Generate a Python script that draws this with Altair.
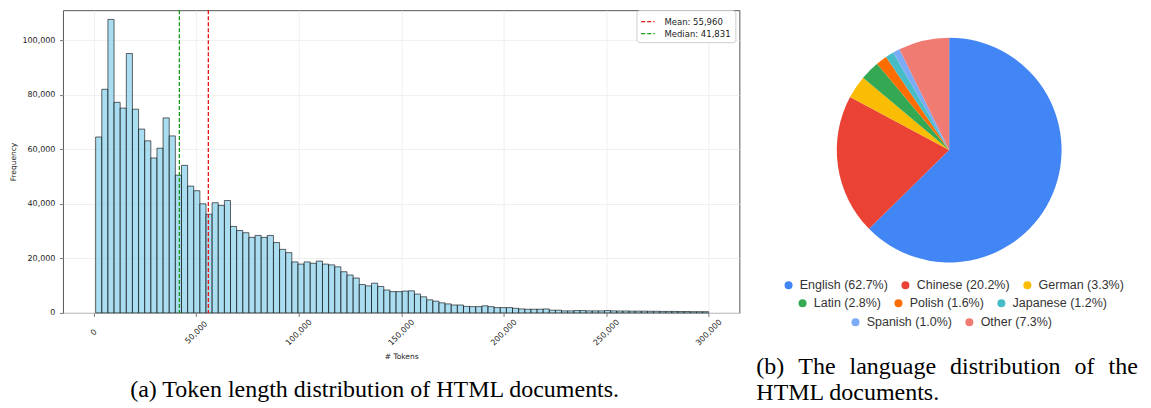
import altair as alt
import numpy as np
import pandas as pd

# ---------------- data: token histogram ----------------
bin_first_edge = 1000
bin_last_edge = 300000
counts = [
    64500, 82000, 107600, 77200, 75100, 95100, 74700, 67400, 63100, 56800,
    60400, 71500, 64900, 50500, 54100, 46500, 44800, 40000, 36200, 40400,
    39400, 41200, 31700, 30200, 29400, 27700, 28400, 27700, 28400, 25800,
    23300, 22100, 18700, 17900, 18700, 18200, 19000, 17900, 17600, 16900,
    15100, 13900, 12800, 10400, 9900, 10900, 9700, 8400, 7800, 7800,
    8000, 8100, 6900, 5900, 4800, 4300, 3700, 3300, 2900, 2900,
    2400, 2300, 2300, 2600, 2300, 1950, 1950, 1950, 1700, 1450,
    1350, 1350, 1350, 1450, 1000, 1000, 750, 750, 850, 850,
    750, 750, 750, 850, 750, 700, 700, 650, 650, 650,
    600, 600, 550, 550, 550, 500, 500, 450, 450, 450,
]
mean_tokens = 55960
median_tokens = 41831
x_ticks = [0, 50000, 100000, 150000, 200000, 250000, 300000]
y_ticks = [0, 20000, 40000, 60000, 80000, 100000]

# ---------------- data: languages ----------------
languages = ["English", "Chinese", "German", "Latin", "Polish", "Japanese", "Spanish", "Other"]
shares = [62.7, 20.2, 3.3, 2.8, 1.6, 1.2, 1.0, 7.3]
colors = ["#4285F4", "#EA4335", "#FBBC04", "#34A853", "#FF6D01", "#46BDC6", "#7BAAF7", "#F07B72"]
legend_row = [0, 0, 0, 1, 1, 1, 2, 2]

caption_a = "(a) Token length distribution of HTML documents."
gap = "\u2002\u200a"
caption_b = [gap.join(["(b)", "The", "language", "distribution", "of", "the"]), "HTML documents."]

# ---------------- histogram ----------------
edges = np.linspace(bin_first_edge, bin_last_edge, len(counts) + 1)
hist_df = pd.DataFrame({"start": edges[:-1], "end": edges[1:], "count": counts})

bars = alt.Chart(hist_df).mark_rect(
    fill="#87CEEB", fillOpacity=0.7, stroke="black", strokeOpacity=0.75, strokeWidth=0.8
).encode(
    x=alt.X(
        "start:Q",
        scale=alt.Scale(domain=[-14950, 314950], nice=False, zero=False),
        axis=alt.Axis(
            values=x_ticks, format=",d", labelAngle=-45, labelAlign="center",
            labelBaseline="middle", labelPadding=16, title="# Tokens", titlePadding=6,
        ),
    ),
    x2="end:Q",
    y=alt.Y(
        "count:Q",
        scale=alt.Scale(domain=[0, 111000], nice=False),
        axis=alt.Axis(values=y_ticks, format=",d", title="Frequency", labelPadding=4.5, titlePadding=4),
    ),
    y2=alt.datum(0),
)

stat_labels = [f"Mean: {mean_tokens:,}", f"Median: {median_tokens:,}"]
stats_df = pd.DataFrame({"value": [mean_tokens, median_tokens], "label": stat_labels})
rules = alt.Chart(stats_df).mark_rule(strokeDash=[4, 2], strokeWidth=1.3).encode(
    x=alt.X("value:Q", title="# Tokens"),
    color=alt.Color(
        "label:N",
        scale=alt.Scale(domain=stat_labels, range=["#ee1111", "#1a9a1a"]),
        legend=alt.Legend(
            title=None, orient="none", legendX=574, legendY=0, fillColor="white", strokeColor="#cccccc",
            cornerRadius=3, padding=4, symbolType="stroke", symbolSize=180, symbolStrokeWidth=1.2,
            symbolDash=[4, 2], labelFont="DejaVu Sans", labelFontSize=8.5, labelColor="#222",
            rowPadding=0, labelOffset=9,
        ),
    ),
)

hist = alt.layer(bars, rules).properties(
    width=677,
    height=303,
    view=alt.ViewBackground(stroke="#555555", strokeWidth=1),
    title=alt.TitleParams(
        text=caption_a, orient="bottom", anchor="middle", frame="bounds",
        font="Liberation Serif", fontSize=24, fontWeight="normal", color="black",
        baseline="alphabetic", offset=37,
    ),
)

# ---------------- pie ----------------
pie_df = pd.DataFrame({
    "language": languages,
    "share": shares,
    "order": list(range(len(languages))),
    "row": legend_row,
})
pie_df["label"] = [f"{l} ({s:.1f}%)" for l, s in zip(languages, shares)]
total = float(sum(shares))

base = alt.Chart(pie_df).transform_window(
    cum="sum(share)", sort=[alt.SortField("order")], frame=[None, 0]
).transform_calculate(start="datum.cum - datum.share")

legend_x = [26, 40, 93]
legend_y = [269, 287, 306]
arcs = []
for r in range(3):
    idx = [i for i, rr in enumerate(legend_row) if rr == r]
    arcs.append(
        base.transform_filter(alt.datum.row == r).mark_arc(radius=112.5, strokeWidth=0).encode(
            theta=alt.Theta("start:Q", scale=alt.Scale(domain=[0, total])),
            theta2="cum:Q",
            color=alt.Color(
                "label:N",
                scale=alt.Scale(domain=[pie_df["label"][i] for i in idx], range=[colors[i] for i in idx]),
                legend=alt.Legend(
                    title=None, orient="none", legendX=legend_x[r], legendY=legend_y[r],
                    direction="horizontal", columns=len(idx), symbolType="circle", symbolSize=64,
                    symbolStrokeWidth=0, labelFont="Liberation Sans", labelFontSize=12.5,
                    labelColor="#333333", columnPadding=11, labelOffset=5, padding=0,
                ),
            ),
        )
    )

pie = alt.layer(*arcs).resolve_scale(color="independent").resolve_legend(color="independent").properties(
    width=386,
    height=280,
    view=alt.ViewBackground(stroke="transparent"),
    title=alt.TitleParams(
        text=caption_b, orient="bottom", anchor="start", frame="group",
        font="Liberation Serif", fontSize=24, fontWeight="normal", color="black",
        baseline="alphabetic", offset=45, lineHeight=26,
    ),
)

chart = alt.hconcat(hist, pie, spacing=15).properties(
    padding={"left": 1, "top": 0, "right": 0, "bottom": 0}
).configure_axis(
    labelFont="DejaVu Sans", labelFontSize=8, labelColor="#222222",
    titleFont="DejaVu Sans", titleFontSize=7.5, titleFontWeight="normal", titleColor="#222222",
    domain=False, tickColor="#555555", tickSize=3.5, tickWidth=0.8,
    gridColor="#ebebeb", gridWidth=0.8,
).configure_view(stroke="transparent")

chart.save("out.html", embed_options={"renderer": "svg", "actions": False})
